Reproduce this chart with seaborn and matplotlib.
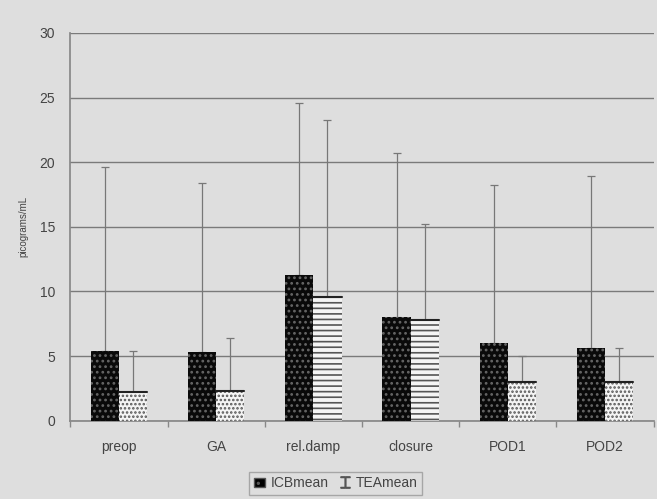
import matplotlib
matplotlib.use("Agg")
import matplotlib.pyplot as plt
import seaborn as sns
import pandas as pd
import numpy as np
from matplotlib.patches import Patch
from matplotlib.lines import Line2D

categories = ["preop", "GA", "rel.damp", "closure", "POD1", "POD2"]
icb_mean = [5.4, 5.3, 11.3, 8.0, 6.0, 5.6]
tea_mean = [2.2, 2.3, 9.6, 7.8, 3.0, 3.0]
icb_upper = [19.6, 18.4, 24.6, 20.7, 18.2, 18.9]
tea_upper = [5.4, 6.4, 23.3, 15.2, 5.0, 5.6]
series = ["ICBmean", "TEAmean"]

df = pd.DataFrame({
    "cat": categories * 2,
    "series": [series[0]] * 6 + [series[1]] * 6,
    "value": icb_mean + tea_mean,
})

sns.set_theme(style="white")
plt.rcParams['font.family'] = ['Liberation Sans', 'DejaVu Sans']
plt.rcParams['hatch.linewidth'] = 1.2
bg = "#dedede"
fig, ax = plt.subplots(figsize=(6.57, 4.99), dpi=100)
fig.patch.set_facecolor(bg)
ax.set_facecolor(bg)
fig.subplots_adjust(left=0.107, right=0.995, top=0.934, bottom=0.157)

sns.barplot(data=df, x="cat", y="value", hue="series", order=categories,
            hue_order=series, errorbar=None, width=0.58, ax=ax,
            palette=["black", "white"], legend=False, zorder=3)

bars = ax.patches
icb_bars = bars[:6]
tea_bars = bars[6:12]
for b in icb_bars:
    b.set_facecolor("#0a0a0a")
    b.set_edgecolor("#666666")
    b.set_hatch("...")
    b.set_linewidth(0)
for i, b in enumerate(tea_bars):
    brick = categories[i] in ("rel.damp", "closure")
    b.set_facecolor("#f4f4f4")
    b.set_edgecolor("#555555")
    b.set_hatch("---" if brick else "....")
    b.set_linewidth(0)
    ax.plot([b.get_x(), b.get_x() + b.get_width()], [b.get_height()] * 2,
            color="#222222", lw=1.5, zorder=4)

for blist, means, ups in ((icb_bars, icb_mean, icb_upper), (tea_bars, tea_mean, tea_upper)):
    xs = [b.get_x() + b.get_width() / 2 for b in blist]
    err = np.vstack([np.zeros(len(means)), np.subtract(ups, means)])
    ax.errorbar(xs, means, yerr=err, fmt="none", ecolor="#777777",
                elinewidth=0.9, capsize=3, capthick=0.9, zorder=2)

ax.set_ylim(0, 30)
ax.set_yticks([0, 5, 10, 15, 20, 25, 30])
ax.yaxis.grid(True, color="#7a7a7a", lw=1.0, zorder=0)
ax.set_axisbelow(True)
ax.set_xlim(-0.5, 5.5)
ax.set_xlabel("")
ax.set_ylabel("picograms/mL", fontsize=7, color="#444444", labelpad=8)
for s in ["top", "right"]:
    ax.spines[s].set_visible(False)
ax.spines["left"].set_color("#888888")
ax.spines["bottom"].set_color("#888888")
ax.tick_params(axis="y", length=5, color="#7a7a7a", labelsize=10, labelcolor="#444444", pad=6)
ax.tick_params(axis="x", length=0, labelsize=10, labelcolor="#444444", pad=14)
ax.set_xticks(np.arange(-0.5, 6.0, 1.0), minor=True)
ax.tick_params(axis="x", which="minor", length=4, color="#888888", bottom=True)

handles = [Patch(facecolor="black", edgecolor="#555555", hatch=".."),
           Line2D([0], [0], color="#555555", marker="$\u2336$", ls="none", markersize=8)]
ax.legend(handles, series, loc="upper center", bbox_to_anchor=(0.455, -0.115),
          ncol=2, frameon=True, fontsize=10, handlelength=0.8, handletextpad=0.4,
          columnspacing=0.8, facecolor=bg, edgecolor="#999999", fancybox=False,
          labelcolor="#444444", borderpad=0.3)

fig.savefig("out.png", dpi=100, facecolor=bg)
